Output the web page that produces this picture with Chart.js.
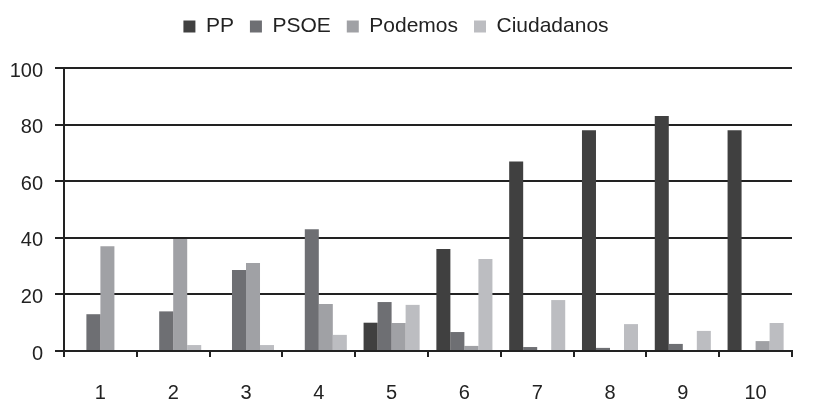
<!DOCTYPE html>
<html>
<head>
<meta charset="utf-8">
<script src="https://cdn.jsdelivr.net/npm/chart.js@4"></script>
<style>
  html, body { margin: 0; padding: 0; background: #fff; }
  #wrap { width: 817px; height: 400px; }
</style>
</head>
<body>
<div id="wrap"><canvas id="myChart" width="817" height="400"></canvas></div>
<script>
var categories = ['1', '2', '3', '4', '5', '6', '7', '8', '9', '10'];
var ppData = [0, 0, 0, 0, 10, 36, 67, 78, 83, 78];
var psoeData = [13, 14, 28.6, 43, 17.3, 6.7, 1.4, 1.1, 2.5, 0];
var podemosData = [37, 39.6, 31.1, 16.6, 9.9, 1.8, 0, 0, 0, 3.5];
var ciudadanosData = [0, 2.1, 2.1, 5.7, 16.3, 32.5, 18, 9.5, 7.1, 9.9];
var yTicks = [0, 20, 40, 60, 80, 100];

// push the plot down below the legend
var legendGap = {
    id: 'legendGap',
    afterInit: function(chart) {
        var fit = chart.legend.fit;
        chart.legend.fit = function() {
            fit.call(this);
            this.height += 21;
        };
    }
};

var main = function() {
    var ctx = document.getElementById('myChart').getContext('2d');
    var myChart = new Chart(ctx, {
        type: 'bar',
        data: {
            labels: categories,
            datasets: [{
                label: 'PP',
                data: ppData,
                backgroundColor: '#404040'
            }, {
                label: 'PSOE',
                data: psoeData,
                backgroundColor: '#6e6f73'
            }, {
                label: 'Podemos',
                data: podemosData,
                backgroundColor: '#a0a1a5'
            }, {
                label: 'Ciudadanos',
                data: ciudadanosData,
                backgroundColor: '#bcbdc1'
            }]
        },
        plugins: [legendGap],
        options: {
            responsive: false,
            animation: false,
            layout: { padding: { top: 0, right: 25, bottom: 0, left: 0 } },
            datasets: {
                bar: { categoryPercentage: 0.77, barPercentage: 1.0, borderWidth: 0 }
            },
            plugins: {
                legend: {
                    position: 'top',
                    labels: {
                        boxWidth: 12,
                        boxHeight: 12,
                        padding: 16,
                        color: '#222',
                        font: { family: 'Liberation Sans, Arial, sans-serif', size: 21 }
                    }
                },
                tooltip: { enabled: false }
            },
            scales: {
                x: {
                    grid: {
                        display: true,
                        drawOnChartArea: false,
                        drawTicks: true,
                        tickLength: 6,
                        color: '#222',
                        lineWidth: 2,
                        offset: true
                    },
                    border: { display: true, color: '#222', width: 2 },
                    ticks: {
                        color: '#222',
                        padding: 24,
                        font: { family: 'Liberation Sans, Arial, sans-serif', size: 20 }
                    },
                    afterFit: function(scale) { scale.height = 49; }
                },
                y: {
                    min: 0,
                    max: 100,
                    afterBuildTicks: function(scale) {
                        scale.ticks = yTicks.map(function(v) { return { value: v }; });
                    },
                    grid: {
                        color: '#222',
                        lineWidth: 2,
                        tickLength: 9
                    },
                    border: { display: true, color: '#222', width: 2 },
                    ticks: {
                        color: '#222',
                        padding: 12,
                        labelOffset: 3,
                        font: { family: 'Liberation Sans, Arial, sans-serif', size: 20 }
                    },
                    afterFit: function(scale) { scale.width = 64; }
                }
            }
        }
    });
};

window.addEventListener('load', main);
</script>
</body>
</html>
